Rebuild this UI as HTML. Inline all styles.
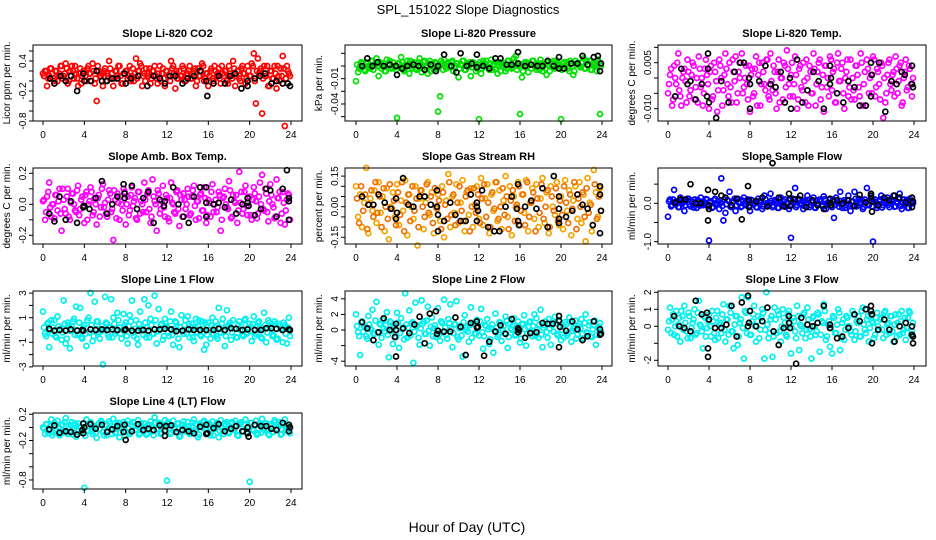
<!DOCTYPE html>
<html><head><meta charset="utf-8">
<style>
html,body{margin:0;padding:0;background:#fff;}
svg{display:block;font-family:"Liberation Sans",sans-serif;}
</style></head>
<body>
<svg id="chart" width="936" height="540" viewBox="0 0 936 540" xmlns="http://www.w3.org/2000/svg">
<rect x="0" y="0" width="936" height="540" fill="#fff"/>
<text x="468" y="14" text-anchor="middle" font-size="13">SPL_151022  Slope Diagnostics</text>
<text x="467" y="532" text-anchor="middle" font-size="14">Hour of Day (UTC)</text>
</svg>
<script>
// ---- data: colored series sampled every 0.2 hour (main from 0, core from 0.1) ----
const hourStep = 0.2;
const coreOffset = 0.1;
const xTicks = [0,4,8,12,16,20,24];

const co2Vals = [0.15,0.2,-0.1,0.1,0.25,0.05,0.2,0.0,0.15,0.3, 0.1,0.35,-0.05,0.2,0.3,0.05,0.15,-0.1,0.25,0.1, 0.2,0.0,0.3,0.15,0.35,-0.05,-0.4,0.2,0.1,-0.1, 0.25,0.15,0.4,0.05,-0.1,0.2,0.1,0.3,-0.05,0.15, 0.2,0.05,0.3,0.1,0.0,0.45,0.2,0.35,-0.1,0.15, 0.25,0.1,-0.05,0.2,0.3,0.05,0.15,0.0,0.25,-0.1, 0.2,0.1,0.4,0.3,-0.15,0.05,0.2,0.1,0.25,0.0, 0.15,0.3,0.05,0.2,-0.1,0.25,0.1,0.35,0.0,0.15, -0.1,0.2,0.05,0.3,0.1,0.25,-0.05,0.15,0.2,0.0, 0.3,0.1,0.4,-0.1,0.2,0.05,0.25,0.15,-0.05,0.3, 0.1,0.35,0.55,-0.45,0.45,0.2,-0.65,0.3,0.1,-0.1, 0.2,0.05,0.3,-0.15,0.1,0.25,0.5,-0.9,0.3,0.15];
const co2Core = [0.1,0.2,0.05,0.25,0.15,0.0,0.2,0.1,0.3,0.05, 0.15,0.25,0.0,0.1,0.2,0.3,0.05,0.15,-0.05,0.2, 0.1,0.25,0.15,0.0,0.2,0.05,0.3,0.1,0.15,0.2, 0.0,0.1,0.25,0.15,0.05,0.2,0.3,0.1,-0.05,0.15, 0.2,0.1,0.0,0.25,0.15,0.05,0.2,0.3,0.1,0.0, 0.15,0.25,0.05,0.2,0.1,-0.05,0.3,0.15,0.05,0.2, 0.1,0.0,0.25,0.15,0.2,0.05,0.1,0.3,0.0,0.15, 0.2,0.05,0.15,0.25,0.0,0.1,0.2,0.3,0.05,0.15, 0.1,0.25,0.0,0.2,0.15,0.05,0.3,0.1,0.2,-0.05, 0.15,0.05,0.25,0.1,0.2,0.0,0.3,0.15,0.05,0.2, 0.1,0.3,0.0,0.2,0.15,0.25,0.05,0.1,0.3,-0.1, 0.2,0.05,0.15,0.3,0.0,0.1,0.25,0.05,0.2,0.1];
const co2BlackH = [0.7,1.1,1.7,2.2,2.7,3.3,3.9,4.0,4.6,5.2,5.7,6.2,6.7,7.2,7.9,8.0,8.5,9.2,10.1,10.7,11.3,11.8,12.3,12.8,13.5,14.0,14.6,15.2,15.8,15.9,16.5,17.0,17.6,18.1,18.6,19.2,19.8,19.8,20.5,21.0,21.5,22.1,22.6,23.2,23.7,23.9];
const co2BlackV = [0.05,-0.05,0.1,0.0,0.1,-0.2,0.15,0.0,0.0,0.2,0.0,0.0,0.05,0.05,0.15,-0.05,0.05,0.1,-0.1,0.1,0.05,-0.05,0.1,0.1,-0.05,0.05,0.1,0.2,0.0,-0.3,-0.05,0.1,-0.05,0.1,0.15,-0.15,0.0,-0.1,0.05,0.1,0.15,-0.05,0.0,-0.05,-0.05,-0.1];

const presVals = [-0.012,-0.005,0.0,0.002,-0.003,0.003,0.0,-0.002,0.004,0.001, 0.006,-0.008,0.002,0.0,-0.004,0.005,0.001,-0.002,0.003,-0.001, -0.041,0.002,0.007,-0.003,0.001,0.004,-0.006,0.0,0.003,-0.002, 0.002,0.006,-0.005,0.003,0.0,-0.006,0.004,0.001,-0.003,0.002, -0.036,-0.024,0.002,0.005,-0.002,0.003,0.0,0.004,-0.001,0.002, -0.009,0.001,0.004,-0.003,0.002,0.0,-0.008,0.003,0.001,-0.002, -0.042,-0.006,0.004,0.002,0.0,-0.003,0.005,0.001,-0.002,-0.006, 0.003,0.0,0.002,-0.004,0.004,0.001,-0.002,0.006,0.008,0.0, -0.038,-0.009,0.002,0.003,-0.005,0.001,0.004,0.0,-0.003,0.002, 0.005,-0.004,0.002,-0.007,0.001,0.003,0.0,-0.002,0.004,0.001, -0.042,0.002,0.0,0.003,-0.004,0.002,-0.007,0.004,0.001,0.0, 0.003,0.006,-0.002,0.001,0.004,-0.003,0.002,0.0,0.005,-0.038];
const presCore = [0.001,-0.002,0.003,0.0,-0.004,0.002,-0.001,0.004,-0.003,0.001, 0.0,0.003,-0.002,0.002,-0.004,0.001,0.004,-0.001,0.0,-0.003, 0.002,-0.001,0.003,-0.004,0.001,0.0,0.004,-0.002,0.002,-0.003, 0.003,0.0,-0.002,0.004,-0.001,0.002,-0.004,0.001,0.003,-0.002, 0.0,0.004,-0.003,0.001,0.002,-0.001,0.003,-0.004,0.0,0.002, -0.002,0.001,0.004,-0.003,0.0,0.003,-0.001,0.002,-0.004,0.001, 0.003,-0.002,0.0,0.004,-0.001,0.002,-0.003,0.001,0.003,0.0, -0.004,0.002,0.001,-0.002,0.004,0.0,-0.001,0.003,-0.003,0.002, 0.001,-0.004,0.003,0.0,0.002,-0.002,0.004,-0.001,0.001,-0.003, 0.002,0.0,-0.002,0.003,-0.004,0.001,0.004,-0.001,0.002,0.0, -0.003,0.003,0.001,-0.002,0.004,0.0,-0.004,0.002,0.001,-0.001, 0.003,-0.002,0.004,0.0,-0.003,0.002,0.001,-0.004,0.003,0.0];
const presBlackH = [0.6,1.1,1.6,2.1,2.7,3.3,3.9,4.0,4.5,5.0,5.6,6.1,6.7,7.3,7.8,8.0,8.6,9.3,9.8,10.2,10.8,11.3,11.8,11.8,12.4,13.0,13.6,14.1,14.7,15.2,15.8,15.8,16.5,17.1,17.7,18.2,18.7,19.3,19.8,19.8,20.3,21.0,21.6,22.1,22.6,23.2,23.6,23.8,23.9];
const presBlackV = [0.0,0.006,0.0,0.003,0.0,0.001,0.0,-0.007,-0.002,0.0,0.001,0.0,-0.003,0.001,-0.004,0.0,0.009,0.0,-0.005,0.010,0.0,0.002,0.009,-0.001,0.0,-0.002,0.006,0.006,0.001,0.001,0.011,0.002,0.0,0.001,0.0,0.0,0.004,0.0,0.007,-0.002,-0.002,0.002,0.002,0.008,0.001,0.007,0.008,-0.004,0.002];

const tempVals = [-0.005,0.001,-0.009,0.004,-0.002,0.008,-0.006,0.0,0.003,-0.008, 0.002,-0.004,0.005,-0.007,0.0,0.007,-0.003,-0.009,0.003,0.001, -0.010,0.004,-0.006,0.002,-0.011,0.006,0.0,-0.004,0.008,-0.002, 0.005,-0.008,0.002,0.007,-0.005,0.0,0.008,-0.003,0.004,-0.007, -0.011,0.003,-0.005,0.007,0.001,-0.009,0.005,-0.002,0.006,-0.006, 0.008,-0.004,0.002,-0.010,0.006,0.0,-0.007,0.004,0.009,-0.002, 0.001,-0.006,0.007,-0.010,0.003,-0.003,0.005,-0.008,0.0,0.004, -0.005,0.008,-0.009,0.002,0.006,-0.003,-0.011,0.004,0.0,0.007, -0.004,0.003,-0.008,0.008,-0.001,0.005,-0.010,0.002,-0.006,0.006, 0.0,-0.007,0.004,-0.003,0.008,-0.009,0.002,0.006,-0.005,0.001, 0.007,-0.006,0.003,-0.002,0.005,-0.013,-0.008,0.001,0.006,-0.004, 0.002,0.007,-0.005,0.004,-0.009,0.0,0.006,-0.003,0.003,-0.006];
const tempCore = [-0.002,0.003,-0.007,0.0,0.005,-0.004,-0.009,0.002,-0.001,0.006, -0.006,0.001,0.004,-0.003,-0.008,0.003,0.0,-0.005,0.006,-0.002, 0.002,-0.007,0.005,-0.001,-0.004,0.004,-0.009,0.001,0.003,-0.006, -0.003,0.006,-0.001,-0.008,0.002,0.005,-0.005,0.0,-0.002,0.004, 0.001,-0.006,0.003,-0.009,0.005,-0.002,0.002,-0.004,0.006,-0.007, -0.001,0.004,-0.005,0.002,-0.008,0.0,0.005,-0.003,0.003,-0.006, 0.005,-0.002,0.001,-0.007,0.004,-0.004,-0.001,0.006,-0.009,0.002, -0.005,0.003,-0.002,0.005,-0.007,0.001,0.004,-0.003,-0.006,0.006, 0.002,-0.008,0.005,-0.001,0.003,-0.005,0.0,0.006,-0.003,-0.007, -0.004,0.004,0.001,-0.006,0.005,-0.002,-0.009,0.003,0.0,-0.005, 0.006,-0.003,0.002,-0.007,0.004,0.0,-0.005,0.005,-0.002,0.001, -0.006,0.003,-0.001,0.005,-0.008,0.002,-0.004,0.004,-0.002,0.0];
const tempBlackH = [0.7,1.3,1.9,2.2,2.7,3.3,3.8,3.9,4.0,3.9,4.7,5.2,5.9,6.5,7.0,7.4,7.9,8.0,8.0,8.9,9.5,10.0,10.5,11.0,11.4,11.9,12.0,12.6,13.1,13.6,14.2,14.7,15.2,15.8,15.8,15.9,16.5,17.1,17.6,18.2,18.7,19.3,19.8,19.9,19.8,20.6,21.2,21.8,22.3,22.8,23.1,23.8,23.8,23.9];
const tempBlackV = [-0.006,0.003,-0.002,-0.001,-0.007,-0.002,-0.006,0.003,-0.008,0.008,-0.013,-0.001,-0.008,0.002,0.005,0.005,0.0,-0.002,-0.010,-0.001,0.004,-0.002,-0.003,0.002,-0.008,0.0,-0.010,0.006,-0.008,-0.004,0.002,-0.001,-0.010,0.004,-0.002,0.0,-0.005,-0.008,-0.001,-0.003,-0.009,-0.009,0.005,0.001,-0.006,0.005,-0.011,-0.001,-0.002,0.002,0.001,-0.002,0.004,-0.003];

const ambVals = [0.02,-0.1,0.05,0.14,-0.08,0.0,0.06,-0.04,0.1,-0.17, 0.03,-0.06,0.1,-0.1,0.07,0.0,-0.05,0.12,-0.03,0.05, -0.12,0.08,0.0,0.11,-0.07,0.04,-0.13,0.06,-0.02,0.13, 0.01,-0.08,0.09,-0.05,-0.23,0.03,0.07,-0.1,0.0,0.1, -0.13,0.05,-0.04,0.11,0.02,-0.09,0.08,-0.06,0.0,0.14, -0.05,0.09,-0.12,0.16,0.02,-0.17,0.07,-0.03,0.12,-0.08, 0.04,-0.11,0.14,0.0,-0.06,0.09,-0.14,0.03,0.07,-0.03, 0.1,-0.07,0.05,0.12,-0.1,0.02,0.06,-0.04,0.11,-0.12, 0.03,-0.08,0.13,0.0,-0.05,0.08,-0.17,0.04,0.1,-0.02, 0.15,-0.09,0.06,0.01,-0.12,0.21,0.08,-0.03,0.12,-0.07, 0.05,-0.1,0.11,0.02,-0.06,0.14,0.19,-0.04,0.07,-0.11, 0.13,0.0,-0.09,0.16,0.04,-0.12,0.08,-0.13,0.03,0.06];
const ambCore = [0.03,-0.05,0.08,-0.02,0.0,-0.09,0.06,0.02,-0.06,0.1, -0.03,0.05,-0.08,0.01,0.07,-0.04,0.09,-0.07,0.03,-0.01, 0.06,-0.1,0.02,0.08,-0.05,0.0,0.04,-0.08,0.1,-0.02, -0.06,0.03,0.07,-0.03,0.09,-0.09,0.01,0.05,-0.04,0.08, 0.0,-0.07,0.06,-0.01,0.04,-0.1,0.08,0.02,-0.05,0.03, 0.07,-0.03,-0.08,0.05,0.0,0.09,-0.06,0.02,-0.02,0.06, -0.09,0.04,0.01,-0.05,0.08,-0.03,0.06,-0.08,0.03,0.0, 0.05,-0.06,0.09,-0.01,0.02,-0.09,0.07,-0.04,0.04,-0.07, 0.01,0.08,-0.05,0.03,-0.02,0.06,-0.1,0.05,0.0,-0.03, 0.09,-0.08,0.02,0.06,-0.04,0.01,-0.06,0.08,-0.01,0.04, -0.07,0.03,0.07,-0.09,0.05,0.0,-0.03,0.1,-0.05,0.02, 0.06,-0.02,-0.08,0.04,0.08,-0.06,0.01,-0.04,0.07,-0.1];
const ambBlackH = [0.6,1.1,1.6,2.2,2.7,3.3,3.9,4.0,4.5,5.1,5.7,6.2,6.7,7.2,7.8,7.9,7.9,8.6,9.1,9.7,10.2,10.7,11.3,11.7,11.8,12.6,13.1,13.6,14.1,14.6,15.2,15.8,15.8,15.8,16.5,17.0,17.6,18.2,18.7,19.3,19.8,19.8,19.9,20.5,21.1,21.6,22.0,22.6,23.2,23.6,23.8,23.8,23.8];
const ambBlackV = [-0.06,-0.11,0.05,-0.1,0.02,-0.12,-0.02,-0.01,-0.03,0.04,0.15,-0.06,0.0,0.05,0.13,0.07,0.04,0.12,-0.03,0.04,0.08,-0.12,0.03,-0.01,0.02,0.11,0.0,-0.08,-0.12,0.05,0.11,0.11,-0.08,0.01,0.0,0.01,-0.02,0.03,-0.06,0.0,0.04,0.01,-0.01,-0.07,-0.03,0.10,0.09,-0.08,0.10,0.22,0.04,0.02,-0.1];

const rhVals = [0.1,-0.05,0.06,-0.1,0.02,0.19,-0.13,0.04,-0.02,0.08, -0.08,0.12,-0.03,0.05,-0.12,0.09,-0.16,0.0,0.07,-0.05, 0.11,-0.09,0.03,-0.02,0.13,-0.14,0.06,0.0,-0.06,0.1, -0.19,0.04,0.08,-0.11,0.02,0.12,-0.04,0.07,-0.13,0.0, 0.06,-0.07,0.1,-0.15,0.03,0.16,-0.1,0.05,-0.03,0.11, -0.08,0.02,0.13,-0.12,0.07,-0.04,0.09,-0.1,0.01,0.1, -0.06,0.14,-0.09,0.04,0.11,-0.13,0.06,-0.02,0.12,-0.07, 0.08,-0.11,0.03,0.15,-0.05,0.1,-0.14,0.05,0.0,0.12, -0.09,0.06,-0.03,0.13,-0.12,0.02,0.09,-0.06,0.11,-0.1, 0.04,0.14,-0.08,0.07,-0.13,0.1,0.0,-0.04,0.12,-0.09, 0.05,-0.11,0.13,-0.02,0.08,-0.14,0.03,0.1,-0.06,0.12, -0.08,0.06,-0.17,0.14,0.02,-0.12,0.18,0.07,-0.05,0.09];
const rhCore = [0.04,-0.08,0.1,-0.02,0.06,-0.11,0.01,0.08,-0.05,0.12, -0.03,0.05,-0.1,0.09,0.0,-0.06,0.11,-0.01,0.03,-0.09, 0.07,-0.04,0.12,-0.12,0.02,0.06,-0.07,0.1,-0.02,0.04, -0.1,0.08,0.0,-0.05,0.11,-0.03,0.05,-0.08,0.09,-0.01, 0.03,-0.11,0.07,0.01,-0.06,0.12,-0.04,0.06,-0.09,0.02, 0.1,-0.02,-0.07,0.05,0.08,-0.12,0.0,0.09,-0.03,0.06, -0.08,0.04,0.11,-0.05,0.02,-0.1,0.07,-0.01,0.12,-0.06, 0.0,0.09,-0.04,0.05,-0.11,0.03,0.08,-0.07,0.01,0.1, -0.02,0.06,-0.09,0.12,-0.05,0.02,0.07,-0.12,0.04,-0.03, 0.11,-0.06,0.0,0.08,-0.1,0.05,-0.02,0.09,-0.07,0.03, -0.04,0.1,0.02,-0.08,0.06,-0.01,0.12,-0.11,0.04,0.0, 0.07,-0.05,0.09,-0.03,0.01,-0.09,0.11,-0.06,0.05,-0.02];
const rhBlackH = [0.6,1.2,1.7,2.2,2.8,3.4,3.9,3.9,4.0,4.6,5.1,5.6,6.2,6.7,7.3,7.9,7.9,8.0,8.0,8.6,9.2,9.7,10.2,10.7,11.2,11.8,11.8,11.9,11.8,12.3,12.9,13.5,14.0,14.6,15.2,15.7,15.8,15.8,15.9,16.5,17.1,17.6,18.2,18.7,19.3,19.8,19.8,19.8,19.8,20.5,21.1,21.6,22.1,22.6,23.1,23.8,23.8,23.9,23.8];
const rhBlackV = [0.05,0.01,0.01,0.06,0.02,-0.01,-0.06,0.04,-0.03,0.14,0.01,0.0,0.05,0.05,0.01,0.0,0.08,-0.04,-0.12,-0.07,0.02,-0.04,-0.07,-0.07,0.06,0.0,0.02,-0.02,-0.07,0.08,-0.1,-0.12,-0.12,0.0,0.05,-0.01,0.11,-0.07,-0.09,0.0,0.03,-0.01,0.09,-0.1,0.15,0.05,-0.01,-0.06,-0.08,-0.05,-0.02,0.06,0.01,-0.01,-0.09,0.1,0.06,-0.02,-0.13];

const sampVals = [-0.35,0.1,-0.05,0.35,0.05,-0.1,0.15,0.0,-0.2,0.08, 0.12,-0.08,0.0,0.1,-0.12,0.05,0.15,-0.05,0.02,0.1, -0.97,0.05,-0.1,0.12,0.0,-0.15,0.65,-0.45,-0.25,0.08, 0.3,-0.1,0.05,-0.2,0.12,0.0,-0.08,0.15,-0.05,0.1, -0.2,0.08,0.0,-0.1,0.12,0.05,-0.15,0.2,0.0,-0.05, 0.25,-0.1,0.08,0.0,-0.12,0.15,-0.05,0.1,0.02,-0.15, -0.9,0.12,0.4,-0.05,0.1,0.0,-0.15,0.08,0.2,-0.1, 0.05,0.15,-0.12,0.0,0.1,-0.05,0.18,-0.15,0.02,0.1, -0.1,-0.38,0.15,0.0,0.3,-0.12,0.08,-0.05,0.2,-0.2, 0.05,0.3,-0.08,0.12,0.0,-0.15,0.1,0.4,-0.05,0.15, -1.0,0.1,-0.12,0.05,0.2,-0.05,0.0,0.15,-0.1,0.08, 0.2,-0.08,0.0,0.25,-0.15,0.1,0.05,-0.12,0.12,0.0];
const sampCore = [0.05,-0.08,0.1,-0.02,0.0,-0.1,0.07,0.03,-0.05,0.12, -0.03,0.06,-0.11,0.02,0.09,-0.06,0.04,-0.01,0.11,-0.08, 0.01,-0.12,0.08,-0.04,0.05,0.0,-0.07,0.1,-0.02,0.06, -0.09,0.03,0.12,-0.05,0.02,-0.1,0.07,-0.01,0.04,-0.06, 0.09,-0.03,0.0,-0.11,0.06,0.03,-0.08,0.11,-0.04,0.01, 0.07,-0.06,0.04,-0.12,0.1,-0.02,0.05,-0.09,0.0,0.08, -0.05,0.02,-0.1,0.12,-0.03,0.06,-0.07,0.01,0.09,-0.04, 0.03,-0.11,0.07,-0.01,0.05,-0.08,0.11,-0.02,0.0,-0.06, 0.1,-0.04,0.02,-0.09,0.06,0.0,-0.12,0.08,-0.03,0.04, -0.07,0.12,-0.05,0.01,0.09,-0.1,0.03,-0.02,0.07,-0.08, 0.05,-0.01,-0.06,0.1,-0.11,0.02,0.08,-0.04,0.0,0.06, -0.09,0.04,0.11,-0.07,0.01,-0.03,0.09,-0.12,0.05,0.0];
const sampBlackH = [0.7,1.2,1.7,2.2,2.7,3.2,3.9,3.9,4.0,4.0,4.6,5.2,5.6,6.2,6.7,7.2,7.8,7.9,7.9,8.6,9.2,9.7,10.2,10.8,11.3,11.8,11.9,11.9,12.4,12.9,13.5,14.1,14.6,15.2,15.8,15.8,15.9,16.5,17.0,17.6,18.2,18.7,19.3,19.8,19.8,19.9,19.9,20.5,21.1,21.6,22.1,22.6,23.2,23.8,23.8,23.9];
const sampBlackV = [0.02,0.1,0.1,0.5,0.0,0.0,0.35,-0.45,-0.05,-0.15,0.3,0.2,0.15,-0.05,0.12,-0.42,0.45,0.08,-0.1,0.05,0.15,-0.08,1.05,0.15,-0.08,0.25,0.12,-0.07,0.1,0.2,-0.1,0.08,-0.05,-0.15,0.12,0.0,-0.05,0.08,0.0,0.08,-0.07,0.22,0.02,0.25,0.2,-0.22,0.05,-0.05,0.15,0.08,0.2,0.15,0.02,0.15,-0.1,0.05];

const l1Vals = [1.5,-0.3,0.5,-1.4,0.8,0.2,-0.5,1.1,0.0,-0.8, 2.4,-1.1,0.6,-1.5,0.3,0.9,1.9,-0.4,1.8,-0.7, 0.4,-1.3,1.0,3.0,-0.9,2.3,0.7,-0.2,-0.1,-2.8, 2.7,0.5,-0.6,2.5,1.0,-0.3,1.4,0.2,-0.7,1.3, 0.6,-1.1,1.2,2.4,-0.5,0.8,-1.2,1.5,0.1,2.5, -0.6,2.0,0.9,-0.3,2.8,-1.1,1.7,0.4,-0.8,0.9, 0.2,-0.5,1.5,-1.2,0.7,0.0,-1.4,1.2,-0.3,0.8, 1.1,-0.6,0.5,-0.9,0.9,0.3,-0.4,0.7,-1.6,-1.2, 0.6,-0.7,1.0,0.2,-0.5,1.8,-0.2,0.9,-1.3,1.6, 0.4,-0.8,0.8,0.1,-0.6,0.7,0.3,-0.5,0.9,-0.2, 0.5,-0.9,1.1,-0.3,0.6,0.2,-0.7,1.4,-1.0,0.8, 0.3,-0.5,0.7,-0.8,0.5,0.1,-1.0,0.4,-1.1,1.0];
const l1Core = [0.2,-0.5,0.6,0.0,-0.3,0.8,-0.6,0.3,0.1,-0.2, 0.5,-0.7,0.4,-0.1,0.7,-0.4,0.0,0.6,-0.6,0.2, -0.3,0.8,-0.2,0.4,-0.5,0.1,0.7,-0.7,0.3,0.0, 0.6,-0.4,0.2,-0.6,0.5,-0.1,0.8,-0.3,0.0,0.4, -0.5,0.3,0.7,-0.2,0.1,-0.7,0.5,0.0,-0.4,0.6, 0.2,-0.6,0.4,-0.3,0.8,-0.1,0.0,0.5,-0.5,0.3, -0.2,0.7,-0.4,0.1,0.6,-0.7,0.2,-0.1,0.4,-0.3, 0.5,0.0,-0.6,0.3,-0.2,0.8,-0.5,0.1,0.6,-0.4, 0.0,0.4,-0.3,0.7,-0.7,0.2,0.5,-0.1,-0.5,0.3, 0.6,-0.2,0.1,-0.6,0.4,0.0,-0.4,0.8,-0.3,0.2, -0.1,0.5,-0.5,0.3,0.7,-0.6,0.0,0.4,-0.2,0.6, 0.1,-0.4,0.5,-0.7,0.3,0.0,0.6,-0.3,0.2,-0.5];
const l1BlackH = [0.6,1.1,1.6,2.2,2.7,3.3,3.8,3.9,4.6,5.1,5.7,6.2,6.7,7.2,7.9,8.0,8.6,9.2,9.7,10.2,10.8,11.3,11.8,12.4,12.9,13.5,14.1,14.6,15.2,15.8,16.5,17.0,17.6,18.2,18.7,19.3,19.8,20.5,21.1,21.6,22.1,22.6,23.2,23.8,23.9];
const l1BlackV = [0.1,-0.05,0.0,-0.05,0.05,-0.05,0.0,-0.05,0.05,0.0,0.05,0.0,0.05,0.0,0.0,0.05,-0.05,-0.05,0.0,-0.05,0.05,0.05,0.1,0.05,-0.1,-0.05,0.05,0.0,0.0,0.0,0.0,0.1,0.0,0.15,0.1,0.0,0.05,0.0,0.0,0.15,0.15,0.1,0.0,0.05,0.0];

const l2Vals = [2.0,-0.3,-3.2,1.1,0.4,-0.8,1.8,0.2,2.6,-0.5, 3.6,-1.9,0.7,1.3,-0.2,2.3,-3.5,1.0,-1.8,0.5, 2.2,-2.3,1.5,0.3,4.7,-1.0,2.5,0.8,-4.2,3.5, 0.6,-1.9,3.8,1.1,-0.5,3.0,-2.0,1.6,0.2,-0.9, 2.8,-1.4,0.9,3.9,-0.6,1.4,3.3,-2.2,0.7,3.7, -1.2,0.5,-3.4,1.9,0.3,-1.5,2.9,0.9,-0.4,1.3, -0.7,2.7,-2.4,0.6,1.4,-1.8,0.2,-2.9,2.1,-0.9, 1.0,-1.4,0.5,1.7,-2.3,0.8,0.0,1.5,-0.6,1.1, -1.6,0.7,1.9,-2.0,0.4,1.1,-0.8,2.0,1.5,-1.0, 2.6,-2.2,0.6,-0.3,1.4,-1.9,0.9,1.7,-0.5,1.1, -1.3,0.4,1.0,-0.7,1.6,-1.5,0.2,1.2,-0.6,0.8, 1.4,-1.1,2.0,-0.4,1.0,-0.9,0.6,-1.9,0.3,0.9];
const l2Core = [0.5,-0.8,1.0,-0.2,0.3,-1.1,0.7,0.0,-0.5,1.2, -0.3,0.8,-1.0,0.2,0.6,-0.6,1.1,-0.1,0.4,-0.9, 0.9,-0.4,0.1,-1.2,0.7,0.3,-0.7,1.0,-0.2,0.5, -1.0,0.2,0.8,-0.5,1.2,-0.1,0.4,-0.8,0.6,0.0, -0.6,1.1,-0.3,0.3,-1.1,0.9,0.1,-0.4,0.7,-0.9, 0.2,-0.7,1.0,0.0,-0.2,0.6,-1.0,0.8,-0.5,0.4, 1.1,-0.3,-0.8,0.5,0.1,-1.2,0.7,-0.1,0.3,-0.6, 0.9,0.0,-0.4,1.2,-0.9,0.2,0.6,-0.7,0.4,-0.2, -1.1,0.8,0.1,-0.5,1.0,-0.3,0.5,-0.8,0.0,0.7, -0.6,0.3,1.1,-1.0,0.2,0.6,-0.2,0.9,-0.7,0.4, 0.0,-0.9,0.7,-0.4,1.0,-0.1,0.3,-1.1,0.5,0.2, -0.5,0.9,-0.3,0.6,-0.8,0.1,1.2,-0.6,0.4,-0.2];
const l2BlackH = [0.6,1.1,1.7,2.2,2.7,3.3,3.8,3.9,3.9,3.9,4.6,5.2,5.7,6.2,6.7,7.2,7.8,7.9,8.0,8.6,9.2,9.7,10.2,10.7,11.2,11.8,11.8,11.9,12.5,13.0,13.6,14.1,14.6,15.2,15.8,15.8,15.9,16.5,17.0,17.6,18.2,18.7,19.2,19.8,19.8,19.8,19.9,20.5,21.1,21.6,22.1,22.6,23.2,23.8,23.8,23.9];
const l2BlackV = [1.0,0.2,-1.3,-0.3,1.5,0.0,-0.9,0.0,0.8,-3.4,0.2,-0.4,0.7,1.7,-1.7,2.1,2.4,-0.5,-0.1,-0.2,-0.2,1.6,0.4,-3.2,0.9,1.1,0.3,0.4,-3.3,-1.5,-0.2,0.6,-0.5,1.4,0.2,-0.3,0.0,-1.0,-0.4,-0.3,0.9,0.8,0.8,1.2,1.8,-2.2,0.4,-0.1,1.1,0.1,-1.3,-0.8,1.1,0.1,-0.6,-0.5];

const l3Vals = [-0.2,1.1,0.4,-0.5,0.9,0.1,-0.9,0.6,1.2,-0.3, 0.8,-0.7,0.2,1.0,-0.4,1.5,0.0,-1.3,0.5,-0.1, 0.7,-0.6,0.3,-0.8,0.9,0.1,-0.4,1.3,-0.9,0.4, 1.2,-0.3,-1.3,0.6,-1.1,0.2,1.7,-1.9,0.8,1.7, -0.5,0.3,1.2,-0.9,0.6,-0.2,1.0,-1.9,2.0,-0.7, 0.4,-1.8,1.1,-0.4,0.7,-0.9,1.0,0.2,-0.6,0.9, -1.6,0.5,-0.3,1.2,-1.4,0.0,0.7,-0.7,1.1,-0.2, -1.9,0.6,-0.5,0.8,-1.5,0.3,1.3,-0.8,0.1,-1.2, -1.6,0.5,-0.4,1.0,-1.4,0.2,-0.8,0.6,0.0,-0.3, 0.9,-0.8,0.3,0.6,-0.6,1.1,-0.2,0.4,-0.9,0.7, 0.2,-0.5,0.8,-0.2,0.5,-0.7,0.9,0.1,-0.4,0.6, -0.9,0.7,0.2,-0.5,0.9,-0.2,-0.8,0.5,0.8,-0.3];
const l3Core = [0.3,-0.4,0.7,0.0,-0.6,0.5,0.9,-0.2,0.2,-0.7, 0.6,-0.1,0.4,-0.5,0.8,0.1,-0.3,0.6,-0.6,0.3, 0.0,0.9,-0.4,0.5,-0.7,0.2,0.7,-0.2,0.4,-0.5, 0.8,-0.3,0.1,0.6,-0.6,0.4,-0.1,0.9,-0.4,0.2, -0.5,0.7,0.0,0.3,-0.7,0.5,0.8,-0.2,0.1,-0.4, 0.6,-0.6,0.4,0.9,-0.3,0.0,0.5,-0.5,0.7,0.2, -0.1,0.3,-0.7,0.6,0.1,-0.4,0.8,-0.2,0.4,-0.6, 0.5,0.0,-0.3,0.7,-0.5,0.2,0.9,-0.6,0.3,-0.1, 0.6,-0.4,0.1,0.8,-0.7,0.4,-0.2,0.5,0.0,-0.5, 0.7,-0.3,0.2,-0.6,0.9,0.1,-0.4,0.6,-0.1,0.3, -0.7,0.5,0.0,0.4,-0.2,0.8,-0.5,0.2,0.6,-0.3, 0.1,-0.6,0.7,0.3,-0.4,0.5,-0.1,0.9,-0.5,0.2];
const l3BlackH = [0.6,1.1,1.6,2.2,2.7,3.3,3.8,3.9,3.9,4.0,4.6,5.2,5.7,6.2,6.7,7.2,7.8,7.9,7.8,8.0,8.6,9.2,9.7,10.3,10.8,11.3,11.8,11.8,11.9,12.5,13.0,13.6,14.1,14.6,15.2,15.8,15.8,16.5,17.0,17.6,18.2,18.7,19.3,19.8,19.8,19.9,19.9,20.5,21.1,21.6,22.1,22.6,23.2,23.8,23.8,23.9,23.9];
const l3BlackV = [0.6,0.0,-0.1,-0.3,1.5,0.7,0.8,-1.3,-1.8,0.4,-0.1,-0.1,0.1,1.2,-0.6,1.4,1.8,0.2,0.0,0.9,0.0,0.3,1.1,-0.3,-1.1,-0.1,0.6,0.2,-0.1,-2.2,0.5,0.1,0.0,0.2,1.2,0.1,-0.1,-0.7,-0.6,-0.1,0.7,0.3,1.0,1.2,0.9,-1.0,0.7,-0.2,0.4,-0.2,-0.9,0.0,0.2,0.0,-0.5,-0.6,-1.0];

const l4Vals = [0.0,-0.1,0.05,-0.05,0.12,-0.08,0.02,0.1,-0.12,0.04, -0.06,0.14,-0.1,0.03,0.08,-0.04,-0.14,0.06,0.0,-0.08, -0.92,0.12,-0.05,0.08,-0.1,0.02,-0.16,0.06,0.1,-0.07, 0.04,-0.12,0.09,-0.02,0.13,-0.08,0.05,-0.15,0.01,0.08, -0.06,0.1,-0.1,0.03,0.07,-0.04,0.11,-0.09,0.0,0.06, -0.11,0.04,0.09,-0.06,0.15,-0.02,0.07,-0.1,0.02,0.11, -0.81,0.05,-0.08,0.1,-0.03,0.06,-0.14,0.03,0.09,-0.06, 0.08,-0.1,0.02,0.12,-0.05,-0.15,0.06,0.0,0.1,-0.08, 0.04,-0.12,0.09,-0.02,0.07,-0.15,0.11,-0.05,0.03,0.08, -0.09,0.06,-0.03,0.1,-0.12,0.04,0.08,-0.06,0.12,-0.01, -0.83,0.07,-0.05,0.1,-0.09,0.03,0.13,-0.04,0.06,-0.1, 0.05,-0.07,0.11,-0.02,0.08,-0.11,0.04,0.12,-0.05,0.02];
const l4Core = [-0.02,0.05,-0.09,0.02,-0.12,0.07,-0.05,0.0,-0.1,0.04, 0.08,-0.07,-0.01,0.03,-0.11,0.06,-0.04,0.01,-0.08,0.05, -0.13,0.02,0.07,-0.06,0.0,-0.09,0.04,-0.03,0.08,-0.12, 0.03,-0.05,0.06,-0.1,0.01,-0.02,0.07,-0.08,0.04,-0.13, 0.05,-0.01,-0.07,0.08,-0.04,0.02,-0.11,0.06,-0.06,0.0, -0.09,0.04,0.01,-0.12,0.07,-0.03,0.05,-0.08,0.02,-0.05, 0.08,-0.1,0.03,-0.01,-0.07,0.06,-0.13,0.04,0.0,-0.04, 0.02,-0.08,0.07,-0.06,0.05,-0.11,0.01,0.08,-0.03,-0.09, 0.06,-0.02,-0.12,0.03,0.07,-0.05,0.0,-0.1,0.05,-0.07, -0.01,0.08,-0.04,0.02,-0.13,0.06,-0.06,0.04,-0.09,0.01, 0.07,-0.03,0.03,-0.11,0.05,-0.08,0.0,0.06,-0.05,-0.12, 0.02,-0.07,0.08,-0.02,0.04,-0.1,0.06,-0.04,0.01,-0.09];
const l4BlackH = [0.6,1.1,1.6,2.2,2.7,3.3,3.8,3.9,3.9,4.0,4.6,5.1,5.7,6.2,6.7,7.2,7.8,7.9,8.0,8.6,9.2,9.7,10.2,10.7,11.3,11.8,11.8,11.9,12.4,12.9,13.5,14.1,14.6,15.2,15.8,15.8,15.9,16.5,17.0,17.6,18.2,18.7,19.3,19.8,19.8,19.9,20.5,21.1,21.6,22.1,22.6,23.2,23.8,23.8,23.9];
const l4BlackV = [-0.03,0.03,-0.08,-0.06,-0.07,-0.11,-0.04,0.06,-0.09,0.0,0.05,-0.02,0.04,-0.07,-0.03,0.02,-0.07,0.04,-0.19,-0.06,0.05,-0.04,-0.02,-0.04,0.03,-0.05,-0.13,0.02,0.03,-0.07,-0.04,-0.06,-0.09,0.01,0.04,-0.1,-0.09,-0.01,0.05,-0.06,-0.02,0.02,-0.06,-0.09,0.0,-0.14,0.04,0.02,0.02,-0.02,-0.04,0.07,0.04,-0.06,0.0];

// tick values & labels per panel
const co2Ticks = [0.6,0.4,0.2,0,-0.2,-0.4,-0.6,-0.8];
const co2Labels = ["","0.4","","","-0.2","","","-0.8"];
const presTicks = [0.01,0,-0.01,-0.02,-0.03,-0.04];
const presLabels = ["","","-0.01","","-0.04",""];
const tempTicks = [0.01,0.005,0,-0.005,-0.01];
const tempLabels = ["","0.005","","","-0.010"];
const ambTicks = [0.2,0.1,0,-0.1,-0.2];
const ambLabels = ["0.2","","0.0","","-0.2"];
const rhTicks = [0.15,0.1,0.05,0,-0.05,-0.1,-0.15];
const rhLabels = ["0.15","","","0.00","","","-0.15"];
const sampTicks = [0.5,0,-0.5,-1];
const sampLabels = ["","0.0","","-1.0"];
const l1Ticks = [3,2,1,0,-1,-2,-3];
const l1Labels = ["3","","1","","-1","","-3"];
const l2Ticks = [4,2,0,-2,-4];
const l2Labels = ["4","2","0","","-4"];
const l3Ticks = [2,1,0,-1,-2];
const l3Labels = ["2","1","0","","-2"];
const l4Ticks = [0.2,0,-0.2,-0.4,-0.6,-0.8];
const l4Labels = ["0.2","","-0.2","","","-0.8"];

// ---- layout (pixel geometry, not data) ----
const cols = [{l:33,r:302,x0:43,x24:291},{l:345,r:612,x0:356,x24:602},{l:658,r:926,x0:668,x24:914}];
const rows = [{t:45,b:121},{t:168,b:244},{t:291,b:366},{t:413,b:489}];

const panels = [
 {key:"co2",title:"Slope Li-820 CO2",ylab:"Licor ppm per min.",color:"#ff0000",core:"#ff0000",r:0,c:0,zero:81,ppu:50,vals:co2Vals,cv:co2Core,bh:co2BlackH,bv:co2BlackV,ticks:co2Ticks,labels:co2Labels},
 {key:"pressure",title:"Slope Li-820 Pressure",ylab:"kPa per min.",color:"#00e000",core:"#00e000",r:0,c:1,zero:66,ppu:1266,vals:presVals,cv:presCore,bh:presBlackH,bv:presBlackV,ticks:presTicks,labels:presLabels},
 {key:"temp",title:"Slope Li-820 Temp.",ylab:"degrees C per min.",color:"#ff00ff",core:"#ff00ff",r:0,c:2,zero:78,ppu:3066,vals:tempVals,cv:tempCore,bh:tempBlackH,bv:tempBlackV,ticks:tempTicks,labels:tempLabels},
 {key:"amb-box-temp",title:"Slope Amb. Box Temp.",ylab:"degrees C per min.",color:"#ff00ff",core:"#ff00ff",r:1,c:0,zero:204.3,ppu:155,vals:ambVals,cv:ambCore,bh:ambBlackH,bv:ambBlackV,ticks:ambTicks,labels:ambLabels},
 {key:"gas-stream-rh",title:"Slope Gas Stream RH",ylab:"percent per min.",color:"#f5a300",core:"#f07000",r:1,c:1,zero:206.7,ppu:204,vals:rhVals,cv:rhCore,bh:rhBlackH,bv:rhBlackV,ticks:rhTicks,labels:rhLabels},
 {key:"sample-flow",title:"Slope Sample Flow",ylab:"ml/min per min.",color:"#0000ff",core:"#0000ff",r:1,c:2,zero:203.3,ppu:38.3,vals:sampVals,cv:sampCore,bh:sampBlackH,bv:sampBlackV,ticks:sampTicks,labels:sampLabels},
 {key:"line1-flow",title:"Slope Line 1 Flow",ylab:"ml/min per min.",color:"#00f0f0",core:"#00f0f0",r:2,c:0,zero:330,ppu:12.3,vals:l1Vals,cv:l1Core,bh:l1BlackH,bv:l1BlackV,ticks:l1Ticks,labels:l1Labels},
 {key:"line2-flow",title:"Slope Line 2 Flow",ylab:"ml/min per min.",color:"#00f0f0",core:"#00f0f0",r:2,c:1,zero:330,ppu:7.8,vals:l2Vals,cv:l2Core,bh:l2BlackH,bv:l2BlackV,ticks:l2Ticks,labels:l2Labels},
 {key:"line3-flow",title:"Slope Line 3 Flow",ylab:"ml/min per min.",color:"#00f0f0",core:"#00f0f0",r:2,c:2,zero:326.3,ppu:17,vals:l3Vals,cv:l3Core,bh:l3BlackH,bv:l3BlackV,ticks:l3Ticks,labels:l3Labels},
 {key:"line4-flow",title:"Slope Line 4 (LT) Flow",ylab:"ml/min per min.",color:"#00f0f0",core:"#00f0f0",r:3,c:0,zero:427.4,ppu:65.7,vals:l4Vals,cv:l4Core,bh:l4BlackH,bv:l4BlackV,ticks:l4Ticks,labels:l4Labels}
];

const NS = "http://www.w3.org/2000/svg";
const svg = document.getElementById("chart");
function mk(tag, attrs, parent){
  const e = document.createElementNS(NS, tag);
  for (const k in attrs) e.setAttribute(k, attrs[k]);
  parent.appendChild(e);
  return e;
}

panels.forEach(p => {
  const C = cols[p.c], R = rows[p.r];
  const xs = h => C.x0 + (C.x24 - C.x0) * h / 24;
  const ys = v => p.zero - v * p.ppu;

  const g = mk("g", {}, svg);
  
  

  const title = mk("text", {x:(C.l+C.r)/2, y:R.t-8, "text-anchor":"middle", "font-size":"11", "font-weight":"bold"}, g);
  title.textContent = p.title;
  
  

  const yl = mk("text", {x:0, y:0, "text-anchor":"middle", "font-size":"10", transform:`translate(${C.l-23},${(R.t+R.b)/2}) rotate(-90)`}, g);
  yl.textContent = p.ylab;
  
  

  // colored series (main)
  const sg = mk("g", {fill:"none", stroke:p.color, "stroke-width":"1.7"}, g);
  
  
  p.vals.forEach((v, i) => {
    const c = mk("circle", {cx:xs(i*hourStep).toFixed(1), cy:ys(v).toFixed(1), r:"2.5"}, sg);
    
    
  });
  // colored series (dense core)
  const cg = mk("g", {fill:"none", stroke:p.core, "stroke-width":"1.7"}, g);
  
  
  p.cv.forEach((v, i) => {
    const c = mk("circle", {cx:xs(i*hourStep+coreOffset).toFixed(1), cy:ys(v).toFixed(1), r:"2.5"}, cg);
    
    
  });
  // black series
  const bg = mk("g", {fill:"none", stroke:"#000", "stroke-width":"1.7"}, g);
  
  
  p.bh.forEach((h, i) => {
    const c = mk("circle", {cx:xs(h).toFixed(1), cy:ys(p.bv[i]).toFixed(1), r:"2.5"}, bg);
    
    
  });

  // box
  const box = mk("rect", {x:C.l, y:R.t, width:C.r-C.l, height:R.b-R.t, fill:"none", stroke:"#000", "stroke-width":"1"}, g);
  
  

  // y axis
  const ya = mk("g", {stroke:"#000", "stroke-width":"1"}, g);
  
  
  p.ticks.forEach((t, i) => {
    const y = ys(t);
    mk("line", {x1:C.l-4, x2:C.l, y1:y, y2:y}, ya);
    if (p.labels[i]) {
      const tl = mk("text", {x:0, y:0, "text-anchor":"middle", "font-size":"10", stroke:"none", fill:"#000", transform:`translate(${C.l-7},${y}) rotate(-90)`}, g);
      tl.textContent = p.labels[i];
      
      
    }
  });

  // x axis
  const xa = mk("g", {stroke:"#000", "stroke-width":"1"}, g);
  
  
  mk("line", {x1:xs(0), x2:xs(24), y1:R.b, y2:R.b}, xa);
  xTicks.forEach(t => {
    const x = xs(t);
    mk("line", {x1:x, x2:x, y1:R.b, y2:R.b+4}, xa);
    const tl = mk("text", {x:x, y:R.b+17, "text-anchor":"middle", "font-size":"10", fill:"#000"}, g);
    tl.textContent = String(t);
    
    
  });
});
</script>
</body></html>
